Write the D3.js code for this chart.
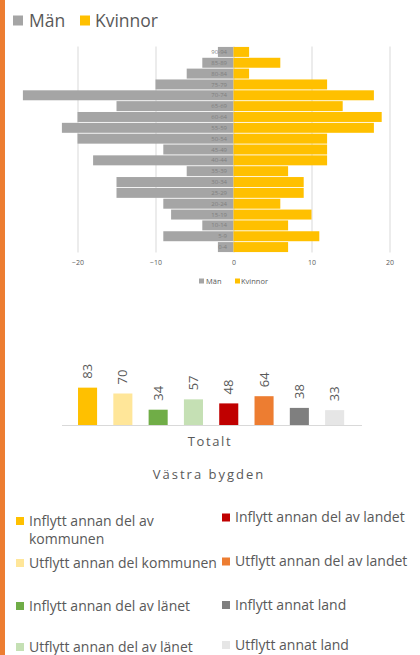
<!DOCTYPE html>
<html>
<head>
<meta charset="utf-8">
<script src="https://cdn.jsdelivr.net/npm/d3@7"></script>
<style>
  html, body { margin: 0; padding: 0; background: #fff; }
  svg { display: block; font-family: "Open Sans", "Noto Sans", sans-serif; }
</style>
</head>
<body>
<svg id="chart" width="420" height="655"></svg>
<script>
// Befolkning per åldersgrupp
const ageGroups = ["90-94","85-89","80-84","75-79","70-74","65-69","60-64","55-59","50-54",
  "45-49","40-44","35-39","30-34","25-29","20-24","15-19","10-14","5-9","0-4"];
const men   = [2, 4, 6, 10, 27, 15, 20, 22, 20, 9, 18, 6, 15, 15, 9, 8, 4, 9, 2];
const women = [2, 6, 2, 12, 18, 14, 19, 18, 12, 12, 12, 7, 9, 9, 6, 10, 7, 11, 7];
const pyramidTicks = [-20, -10, 0, 10, 20];
const sexLabels = ["Män", "Kvinnor"];

// Flyttningar
const moveSeries = [
  "Inflytt annan del av kommunen",
  "Utflytt annan del kommunen",
  "Inflytt annan del av länet",
  "Utflytt annan del av länet",
  "Inflytt annan del av landet",
  "Utflytt annan del av landet",
  "Inflytt annat land",
  "Utflytt annat land"
];
const moveValues = [83, 70, 34, 57, 48, 64, 38, 33];
const moveCategory = "Totalt";
const areaName = "Västra bygden";

const sexColors = ["#A5A5A5", "#FFC000"];
const moveColors = ["#FFC000", "#FFE699", "#70AD47", "#C5E0B4", "#C00000", "#ED7D31", "#7F7F7F", "#E6E6E6"];
const textColor = "#595959";

const svg = d3.select("#chart");
svg.append("rect").attr("width", 420).attr("height", 655).attr("fill", "#fff");
svg.append("rect").attr("x", 0).attr("y", 0).attr("width", 5).attr("height", 655).attr("fill", "#ED7D31");

// ---- top legend ----
const topLegend = svg.append("g");
[[13, 29], [80, 95]].forEach(([sx, tx], i) => {
  topLegend.append("rect").attr("x", sx).attr("y", 15.5).attr("width", 10).attr("height", 10)
    .attr("fill", sexColors[i]);
  topLegend.append("text").attr("x", tx).attr("y", 20.5).attr("dy", "0.35em")
    .attr("font-size", 17.5).attr("fill", textColor).text(sexLabels[i]);
});

// ---- population pyramid ----
const x = d3.scaleLinear().domain([-20, 20]).range([77.5, 389.5]);
const y = d3.scaleBand().domain(ageGroups).range([46.5, 252.5]).paddingInner(0.08).paddingOuter(0.04);

const pyr = svg.append("g");
pyr.selectAll("line.grid").data(pyramidTicks).join("line")
  .attr("class", "grid")
  .attr("x1", d => x(d) + 0.5).attr("x2", d => x(d) + 0.5)
  .attr("y1", 46.5).attr("y2", 252.5)
  .attr("stroke", "#D9D9D9").attr("stroke-width", 1);

pyr.selectAll("rect.men").data(ageGroups).join("rect")
  .attr("class", "men")
  .attr("x", (d, i) => x(-men[i]))
  .attr("width", (d, i) => x(0) - x(-men[i]))
  .attr("y", d => y(d)).attr("height", y.bandwidth())
  .attr("fill", sexColors[0]);

pyr.selectAll("rect.women").data(ageGroups).join("rect")
  .attr("class", "women")
  .attr("x", x(0))
  .attr("width", (d, i) => x(women[i]) - x(0))
  .attr("y", d => y(d)).attr("height", y.bandwidth())
  .attr("fill", sexColors[1]);

pyr.selectAll("text.age").data(ageGroups).join("text")
  .attr("class", "age")
  .attr("x", x(0) - 6.5)
  .attr("y", d => y(d) + y.bandwidth() / 2)
  .attr("dy", "0.35em")
  .attr("text-anchor", "end")
  .attr("font-size", 6)
  .attr("fill", "#7F7F7F")
  .text(d => d);

const xAxis = d3.axisBottom(x).tickValues(pyramidTicks).tickSize(0).tickPadding(0);
const axisG = pyr.append("g").attr("transform", "translate(0,260)").call(xAxis);
axisG.select(".domain").remove();
axisG.selectAll("text").attr("font-size", 7).attr("fill", textColor)
  .attr("font-family", "\"Open Sans\", sans-serif");

// small legend under the pyramid
const smallLegend = svg.append("g");
[[199, 206], [235, 241]].forEach(([sx, tx], i) => {
  smallLegend.append("rect").attr("x", sx).attr("y", 278.5).attr("width", 5).attr("height", 5)
    .attr("fill", sexColors[i]);
  smallLegend.append("text").attr("x", tx).attr("y", 281).attr("dy", "0.35em")
    .attr("font-size", 7.5).attr("fill", textColor).text(sexLabels[i]);
});

// ---- migration bars ----
const bx = d3.scaleBand().domain(moveSeries).range([69.9, 352.3]).paddingInner(0.46).paddingOuter(0.23);
const by = d3.scaleLinear().domain([0, 100]).range([425, 380]);

const bars = svg.append("g");
bars.append("line")
  .attr("x1", 62).attr("x2", 362).attr("y1", 425.5).attr("y2", 425.5)
  .attr("stroke", "#D9D9D9").attr("stroke-width", 1);

bars.selectAll("rect.move").data(moveSeries).join("rect")
  .attr("class", "move")
  .attr("x", d => bx(d))
  .attr("width", bx.bandwidth())
  .attr("y", (d, i) => by(moveValues[i]))
  .attr("height", (d, i) => by(0) - by(moveValues[i]))
  .attr("fill", (d, i) => moveColors[i]);

bars.selectAll("text.val").data(moveSeries).join("text")
  .attr("class", "val")
  .attr("transform", (d, i) =>
    `translate(${bx(d) + bx.bandwidth() / 2},${by(moveValues[i]) - 9}) rotate(-90)`)
  .attr("dy", "0.35em")
  .attr("text-anchor", "start")
  .attr("font-size", 13)
  .attr("fill", textColor)
  .text((d, i) => moveValues[i]);

svg.append("text").attr("x", 210).attr("y", 441).attr("dy", "0.35em")
  .attr("text-anchor", "middle").attr("font-size", 13).attr("letter-spacing", 1.6)
  .attr("fill", textColor).text(moveCategory);

svg.append("text").attr("x", 209).attr("y", 474).attr("dy", "0.35em")
  .attr("text-anchor", "middle").attr("font-size", 13).attr("letter-spacing", 2)
  .attr("fill", textColor).text(areaName);

// ---- migration legend ----
const legendItems = [
  { i: 0, col: 0, y: 521, lines: ["Inflytt annan del av", "kommunen"] },
  { i: 1, col: 0, y: 563, lines: ["Utflytt annan del kommunen"] },
  { i: 2, col: 0, y: 606, lines: ["Inflytt annan del av länet"] },
  { i: 3, col: 0, y: 647, lines: ["Utflytt annan del av länet"] },
  { i: 4, col: 1, y: 517.5, lines: ["Inflytt annan del av landet"] },
  { i: 5, col: 1, y: 561.5, lines: ["Utflytt annan del av landet"] },
  { i: 6, col: 1, y: 605, lines: ["Inflytt annat land"] },
  { i: 7, col: 1, y: 645, lines: ["Utflytt annat land"] }
];
const colX = [[16, 29], [222, 235]];
const leg = svg.append("g");
legendItems.forEach(item => {
  const [sx, tx] = colX[item.col];
  leg.append("rect").attr("x", sx).attr("y", item.y - 4).attr("width", 8).attr("height", 8)
    .attr("fill", moveColors[item.i]);
  const t = leg.append("text").attr("x", tx).attr("y", item.y).attr("font-size", 14)
    .attr("fill", textColor);
  item.lines.forEach((ln, k) => {
    t.append("tspan").attr("x", tx).attr("dy", k === 0 ? "0.35em" : 18.5).text(ln);
  });
});
</script>
</body>
</html>
